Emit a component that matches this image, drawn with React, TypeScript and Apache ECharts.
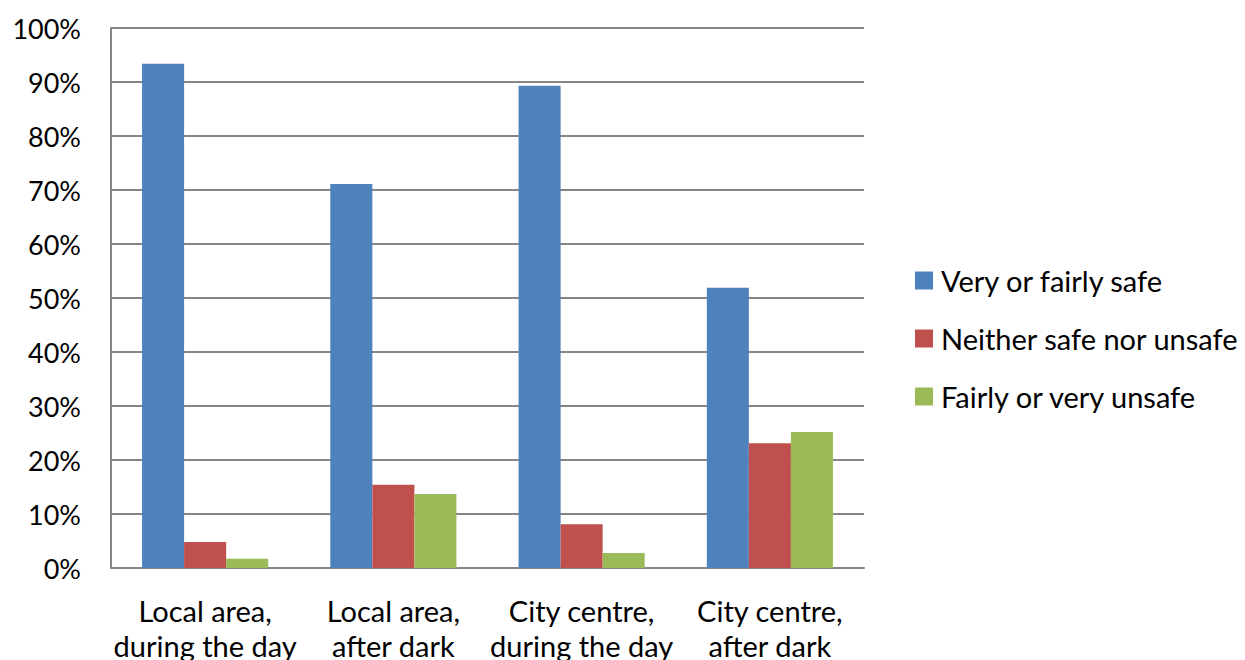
import React, { useEffect, useRef } from "react";
import * as echarts from "echarts";

const categories = [
  "Local area,\nduring the day",
  "Local area,\nafter dark",
  "City centre,\nduring the day",
  "City centre,\nafter dark",
];
const seriesNames = ["Very or fairly safe", "Neither safe nor unsafe", "Fairly or very unsafe"];
const verySafe = [93.4, 71.1, 89.3, 51.9];
const neither = [4.8, 15.4, 8.1, 23.1];
const unsafe = [1.7, 13.7, 2.8, 25.2];
const colors = ["#4F81BD", "#C0504D", "#9BBB59"];
const yTicks = [0, 10, 20, 30, 40, 50, 60, 70, 80, 90, 100];

const FONT = "Lato";

export default function App() {
  const ref = useRef<HTMLDivElement>(null);
  useEffect(() => {
    if (!ref.current) return;
    const chart = echarts.init(ref.current, null, { renderer: "svg" });
    const data = [verySafe, neither, unsafe];
    chart.setOption({
      animation: false,
      textStyle: { fontFamily: FONT },
      grid: { left: 111, right: 381, top: 28, bottom: 92, containLabel: false, outerBoundsMode: "none" },
      legend: {
        orient: "vertical",
        left: 915,
        top: 266,
        padding: 0,
        itemWidth: 18,
        itemHeight: 18,
        itemGap: 29,
        icon: "rect",
        textStyle: { fontFamily: FONT, fontSize: 29, color: "#000", padding: [0, 0, 0, 3] },
        data: seriesNames,
      },
      xAxis: {
        type: "category",
        data: categories,
        axisLine: { lineStyle: { color: "#868686", width: 2 } },
        axisTick: { show: false },
        axisLabel: { fontFamily: FONT, fontSize: 29, color: "#000", margin: 25, lineHeight: 35, interval: 0 },
      },
      yAxis: {
        type: "value",
        min: yTicks[0],
        max: yTicks[yTicks.length - 1],
        interval: 10,
        axisLine: { show: true, lineStyle: { color: "#868686", width: 2 } },
        axisTick: { show: false },
        splitLine: { lineStyle: { color: "#868686", width: 2 } },
        axisLabel: { fontFamily: FONT, fontSize: 27, color: "#000", margin: 30, formatter: "{value}%" },
      },
      series: seriesNames.map((name, i) => ({
        name,
        type: "bar",
        data: data[i],
        barGap: "0%",
        barCategoryGap: "33%",
        itemStyle: { color: colors[i] },
      })),
    });
    return () => chart.dispose();
  }, []);
  return <div ref={ref} style={{ width: 1245, height: 660, position: "absolute", left: 0, top: 0 }} />;
}
